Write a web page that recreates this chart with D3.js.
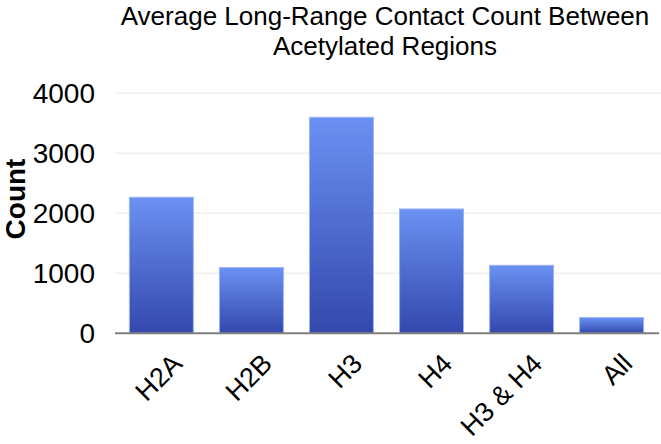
<!DOCTYPE html>
<html>
<head>
<meta charset="utf-8">
<script src="https://cdn.jsdelivr.net/npm/d3@7"></script>
<style>
  body { margin: 0; background: #fff; }
  svg { display: block; font-family: "Liberation Sans", Arial, sans-serif; }
</style>
</head>
<body>
<svg width="661" height="444"></svg>
<script>
// Data
const categories = ['H2A', 'H2B', 'H3', 'H4', 'H3 & H4', 'All']
const counts = [2267, 1095, 3600, 2072, 1133, 262]
const yTicks = [0, 1000, 2000, 3000, 4000]
const titleLines = ['Average Long-Range Contact Count Between', 'Acetylated Regions']

const svg = d3.select('svg')
const margin = { top: 93.3, left: 115, right: 3, bottom: 110.7 }
const width = 661, height = 444

// Scales
const x = d3.scaleBand()
    .domain(categories)
    .range([margin.left, width - margin.right])
    .paddingInner(0.29)
    .paddingOuter(0.16)
const y = d3.scaleLinear()
    .domain([0, 4000])
    .range([height - margin.bottom, margin.top])

// Gradient for bars
const defs = svg.append('defs')
const grad = defs.append('linearGradient')
    .attr('id', 'barGrad')
    .attr('x1', 0).attr('y1', 0).attr('x2', 0).attr('y2', 1)
grad.append('stop').attr('offset', '0%').attr('stop-color', '#6a91f3')
grad.append('stop').attr('offset', '100%').attr('stop-color', '#3447ad')

// Grid
svg.append('g')
    .selectAll('line')
    .data(yTicks.filter(d => d > 0))
    .join('line')
    .attr('x1', margin.left)
    .attr('x2', width)
    .attr('y1', d => y(d))
    .attr('y2', d => y(d))
    .attr('stroke', '#efefef')
    .attr('stroke-width', 1.5)

// Y axis labels
svg.append('g')
    .selectAll('text')
    .data(yTicks)
    .join('text')
    .attr('x', 95)
    .attr('y', d => y(d))
    .attr('dy', '0.34em')
    .attr('text-anchor', 'end')
    .attr('font-size', 28)
    .attr('fill', '#000')
    .text(d => d)

// Bars
svg.append('g')
    .selectAll('rect')
    .data(categories)
    .join('rect')
    .attr('x', d => x(d))
    .attr('width', x.bandwidth())
    .attr('y', (d, i) => y(counts[i]))
    .attr('height', (d, i) => y(0) - y(counts[i]))
    .attr('fill', 'url(#barGrad)')
    .attr('stroke', '#9ab3f7')
    .attr('stroke-width', 1)

// Baseline
svg.append('line')
    .attr('x1', margin.left)
    .attr('x2', width - 2)
    .attr('y1', y(0))
    .attr('y2', y(0))
    .attr('stroke', '#7f7f7f')
    .attr('stroke-width', 2)

// X labels
svg.append('g')
    .selectAll('text')
    .data(categories)
    .join('text')
    .attr('transform', d => `translate(${x(d) + x.bandwidth() / 2 + 9}, 352) rotate(-45)`)
    .attr('text-anchor', 'end')
    .attr('dy', '0.7em')
    .attr('font-size', 27)
    .attr('fill', '#000')
    .text(d => d)

// Y title
svg.append('text')
    .attr('transform', 'translate(25, 199) rotate(-90)')
    .attr('text-anchor', 'middle')
    .attr('font-size', 28)
    .attr('font-weight', 'bold')
    .text('Count')

// Title
svg.append('g')
    .selectAll('text')
    .data(titleLines)
    .join('text')
    .attr('x', 385)
    .attr('y', (d, i) => 25 + i * 30)
    .attr('text-anchor', 'middle')
    .attr('font-size', 26)
    .text(d => d)
</script>
</body>
</html>
